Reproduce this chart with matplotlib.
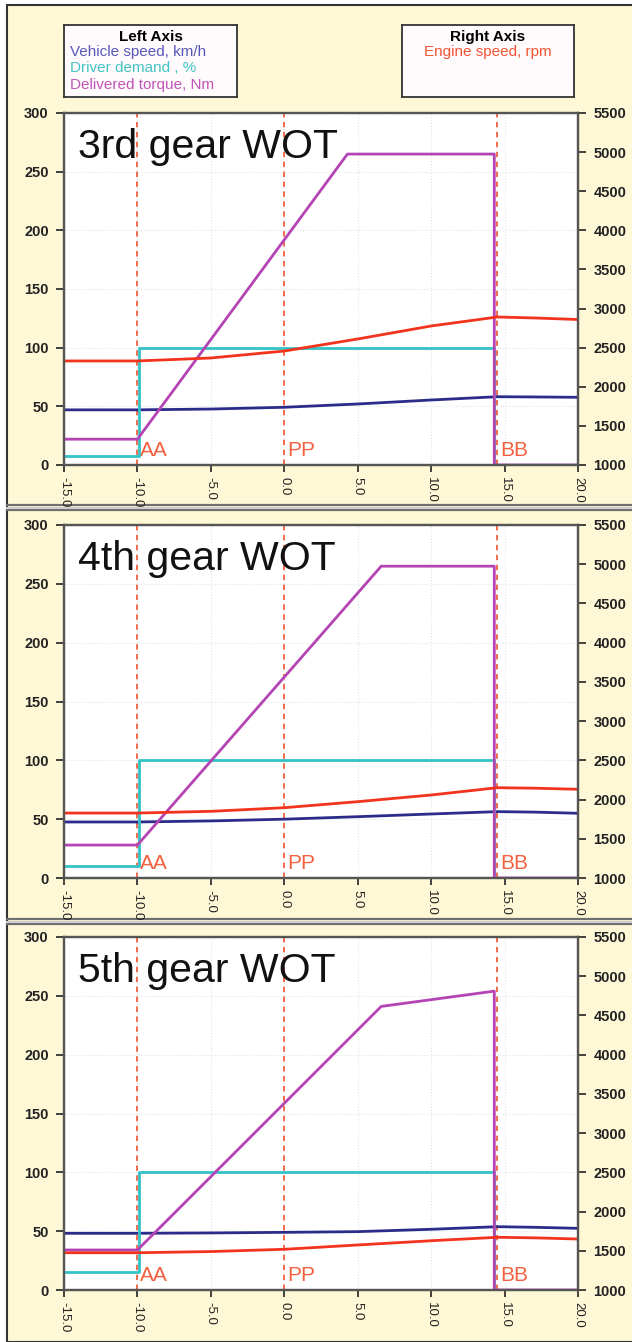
import numpy as np
import matplotlib.pyplot as plt
from matplotlib.patches import Rectangle
from matplotlib.lines import Line2D

plt.rcParams['font.family'] = ['Liberation Sans', 'DejaVu Sans']

W, H = 632, 1342

# ---- data ----
gear_titles = ['3rd gear WOT', '4th gear WOT', '5th gear WOT']

marker_x = [-10.0, 0.0, 14.5]
marker_labels = ['AA', 'PP', 'BB']

x_ticks = [-15, -10, -5, 0, 5, 10, 15, 20]
x_ticklabels = ['-15.0', '-10.0', '-5.0', '0.0', '5.0', '10.0', '15.0', '20.0']
left_ticks = [0, 50, 100, 150, 200, 250, 300]
right_ticks = [1000, 1500, 2000, 2500, 3000, 3500, 4000, 4500, 5000, 5500]

# driver demand, %
demand_x = [-15.0, -9.9, -9.9, 14.3, 14.3, 20.0]
demand_3rd = [8, 8, 100, 100, 0, 0]
demand_4th = [10, 10, 100, 100, 0, 0]
demand_5th = [15, 15, 100, 100, 0, 0]

# delivered torque, Nm
torque_x_3rd = [-15.0, -10.0, 4.3, 14.3, 14.3, 20.0]
torque_3rd = [22, 22, 265, 265, 0, 0]
torque_x_4th = [-15.0, -10.0, 6.6, 14.3, 14.3, 20.0]
torque_4th = [28, 28, 265, 265, 0, 0]
torque_x_5th = [-15.0, -10.0, 6.6, 14.3, 14.3, 20.0]
torque_5th = [34, 34, 241, 254, 0, 0]

# vehicle speed, km/h and engine speed, rpm
speed_x = [-15.0, -10.0, -5.0, 0.0, 5.0, 10.0, 14.5, 17.0, 20.0]
vspeed_3rd = [47.0, 47.0, 47.7, 49.2, 52.0, 55.4, 58.2, 58.0, 57.7]
vspeed_4th = [47.6, 47.6, 48.5, 50.0, 52.1, 54.4, 56.4, 56.0, 55.0]
vspeed_5th = [48.2, 48.2, 48.5, 49.0, 49.6, 51.6, 53.8, 53.3, 52.4]
rpm_3rd = [2330, 2330, 2368, 2457, 2611, 2777, 2892, 2880, 2860]
rpm_4th = [1828, 1828, 1850, 1896, 1973, 2058, 2151, 2145, 2131]
rpm_5th = [1475, 1475, 1490, 1519, 1574, 1628, 1672, 1665, 1650]

gears = [
    (demand_3rd, torque_x_3rd, torque_3rd, vspeed_3rd, rpm_3rd),
    (demand_4th, torque_x_4th, torque_4th, vspeed_4th, rpm_4th),
    (demand_5th, torque_x_5th, torque_5th, vspeed_5th, rpm_5th),
]

c_speed = '#2B2B8A'
c_demand = '#33C2C6'
c_torque = '#B444B4'
c_rpm = '#F2331E'
c_mark = '#F2603F'
bg = '#FFF8D6'

fig = plt.figure(figsize=(W / 100, H / 100), dpi=100, facecolor='white')


def px_box(x0, y0, x1, y1):
    # pixel box (top-left origin) -> figure fraction rect
    return [x0 / W, 1 - y1 / H, (x1 - x0) / W, (y1 - y0) / H]


# yellow panel background with border
fig.patches.append(Rectangle((7 / W, 0), 1, 1 - 5 / H, transform=fig.transFigure,
                             facecolor=bg, edgecolor='#333333', lw=1.5, zorder=-10))

# separators between panels
for ys in (505, 919):
    for dy in (0, 5):
        fig.add_artist(Line2D([7 / W, 1], [1 - (ys + dy) / H] * 2,
                              transform=fig.transFigure, color='#6f6f6f', lw=1.6, zorder=-5))
    fig.add_artist(Line2D([7 / W, 1], [1 - (ys + 2.5) / H] * 2,
                          transform=fig.transFigure, color='#cfcfcf', lw=1.5, zorder=-5))

# legend boxes
lb = fig.add_axes(px_box(64, 25, 237, 97))
rb = fig.add_axes(px_box(402, 25, 574, 97))
for b in (lb, rb):
    b.set_xticks([])
    b.set_yticks([])
    b.set_facecolor('#FFFAFB')
    for s in b.spines.values():
        s.set_color('#333333')
        s.set_linewidth(1.3)
lb.text(0.5, 0.83, 'Left Axis', ha='center', va='center', fontsize=11, fontweight='bold')
lb.text(0.035, 0.62, 'Vehicle speed, km/h', ha='left', va='center', fontsize=11, color='#5858B8')
lb.text(0.035, 0.40, 'Driver demand , %', ha='left', va='center', fontsize=11, color='#44C4C4')
lb.text(0.035, 0.17, 'Delivered torque, Nm', ha='left', va='center', fontsize=11, color='#C055B8')
rb.text(0.5, 0.83, 'Right Axis', ha='center', va='center', fontsize=11, fontweight='bold')
rb.text(0.5, 0.62, 'Engine speed, rpm', ha='center', va='center', fontsize=11, color='#F05535')

panel_px = [(113, 465), (525, 878), (937, 1290)]

for (top, bot), title, (dem, tx, tq, vs, rpm) in zip(panel_px, gear_titles, gears):
    ax = fig.add_axes(px_box(64, top, 578, bot))
    ax.set_facecolor('white')
    ax.set_xlim(-15, 20)
    ax.set_ylim(0, 300)
    ax.set_xticks(x_ticks)
    ax.set_xticklabels(x_ticklabels, rotation=270)
    ax.set_yticks(left_ticks)
    ax.grid(True, color='#dbe6e6', lw=0.8, ls=':')
    ax.set_axisbelow(True)

    for xm, lab in zip(marker_x, marker_labels):
        ax.axvline(xm, color=c_mark, ls=(0, (3, 2.5)), lw=1.3, zorder=2)
        ax.text(xm + 0.2, 0.04, lab, transform=ax.get_xaxis_transform(),
                color=c_mark, fontsize=15, ha='left', va='center')

    ax.plot(speed_x, vs, color=c_speed, lw=2, zorder=3)
    ax.plot(demand_x, dem, color=c_demand, lw=2, zorder=3)
    ax.plot(tx, tq, color=c_torque, lw=2, zorder=4)

    ax.text(0.027, 0.958, title, transform=ax.transAxes, ha='left', va='top',
            fontsize=29.5, color='#111111')

    ax2 = ax.twinx()
    ax2.set_ylim(1000, 5500)
    ax2.set_yticks(right_ticks)
    ax2.plot(speed_x, rpm, color=c_rpm, lw=2)

    for a in (ax, ax2):
        a.tick_params(direction='out', length=6, width=1.2, labelsize=10.5,
                      colors='#222222', pad=5)
        for s in a.spines.values():
            s.set_color('#555555')
            s.set_linewidth(1.6)
    ax.tick_params(axis='x', labelsize=9.5, length=5, pad=4)
    for lab in ax.get_yticklabels() + ax2.get_yticklabels():
        lab.set_fontweight('bold')

fig.savefig('out.png', dpi=100, facecolor=fig.get_facecolor())
